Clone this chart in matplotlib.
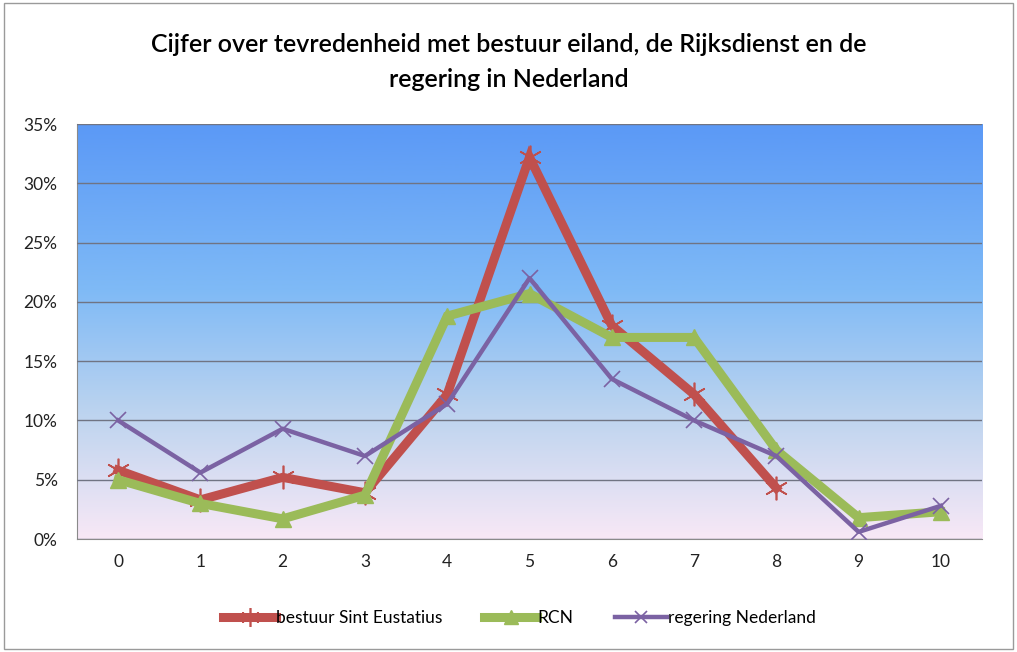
import numpy as np
import matplotlib
matplotlib.use("Agg")
import matplotlib.pyplot as plt
from matplotlib.colors import LinearSegmentedColormap
from matplotlib.patches import Rectangle

plt.rcParams['font.family'] = ['Lato', 'DejaVu Sans']

# chart data (share of respondents per grade)
grades = list(range(11))
bestuur = [5.8, 3.3, 5.2, 3.9, 12.2, 32.2, 18.0, 12.2, 4.3, np.nan, np.nan]
rcn = [5.0, 3.0, 1.7, 3.7, 18.8, 20.7, 17.0, 17.0, 7.5, 1.8, 2.3]
regering = [10.0, 5.6, 9.3, 7.0, 11.4, 22.0, 13.5, 10.0, 7.0, 0.6, 2.8]
series_names = ['bestuur Sint Eustatius', 'RCN', 'regering Nederland']
yticks = [0, 5, 10, 15, 20, 25, 30, 35]
title = 'Cijfer over tevredenheid met bestuur eiland, de Rijksdienst en de\nregering in Nederland'

fig = plt.figure(figsize=(10.17, 6.52), dpi=100)
ax = fig.add_axes([0.0757, 0.1733, 0.8899, 0.6365])

# gradient background of the plot area
grad = LinearSegmentedColormap.from_list('bg', [
    (0.0, '#F8E8F6'),
    (0.3, '#BDD4EF'),
    (0.6, '#7FBAF6'),
    (1.0, '#5B99F6'),
])
ax.imshow(np.linspace(0, 1, 256).reshape(-1, 1), cmap=grad, aspect='auto',
          extent=[0, 1, 0, 1], origin='lower', transform=ax.transAxes, zorder=0)

x = np.array(grades)
ax.plot(x, bestuur, color='#C0504D', lw=6.5, marker=(6, 2, 0), ms=17, mew=1.2,
        mec='#C0504D', label=series_names[0], zorder=3, solid_joinstyle='miter')
ax.plot(x, rcn, color='#9BBB59', lw=6.5, marker='^', ms=12,
        label=series_names[1], zorder=4, solid_joinstyle='miter')
ax.plot(x, regering, color='#7B62A3', lw=3.2, marker='x', ms=11, mew=1.2,
        label=series_names[2], zorder=5)

ax.set_xlim(-0.5, 10.5)
ax.set_ylim(0, 35)
ax.set_yticks(yticks)
ax.set_yticklabels(['%d%%' % v for v in yticks])
ax.set_xticks(x)
ax.set_xticklabels([str(g) for g in grades])
ax.tick_params(length=0, labelsize=12.5, colors='#222222')
ax.tick_params(axis='x', pad=11)
ax.tick_params(axis='y', pad=14)

ax.grid(axis='y', color='#707483', lw=1, zorder=1)
ax.set_axisbelow(False)
for s in ['top', 'right']:
    ax.spines[s].set_visible(False)
ax.spines['left'].set_color('#8a8a8a')
ax.spines['bottom'].set_color('#8a8a8a')

fig.text(0.5, 0.905, title, ha='center', va='center', fontsize=18,
         fontweight='semibold', linespacing=1.65)

leg = fig.legend(loc='center', bbox_to_anchor=(0.511, 0.052), ncol=3,
                 frameon=False, fontsize=12.5, handlelength=3.0,
                 handletextpad=0.05, columnspacing=2.4, markerscale=0.8)

# outer chart border
fig.patches.append(Rectangle((0.004, 0.004), 0.992, 0.992, transform=fig.transFigure,
                             fill=False, ec='#9a9a9a', lw=1))

fig.savefig('out.png', dpi=100)
